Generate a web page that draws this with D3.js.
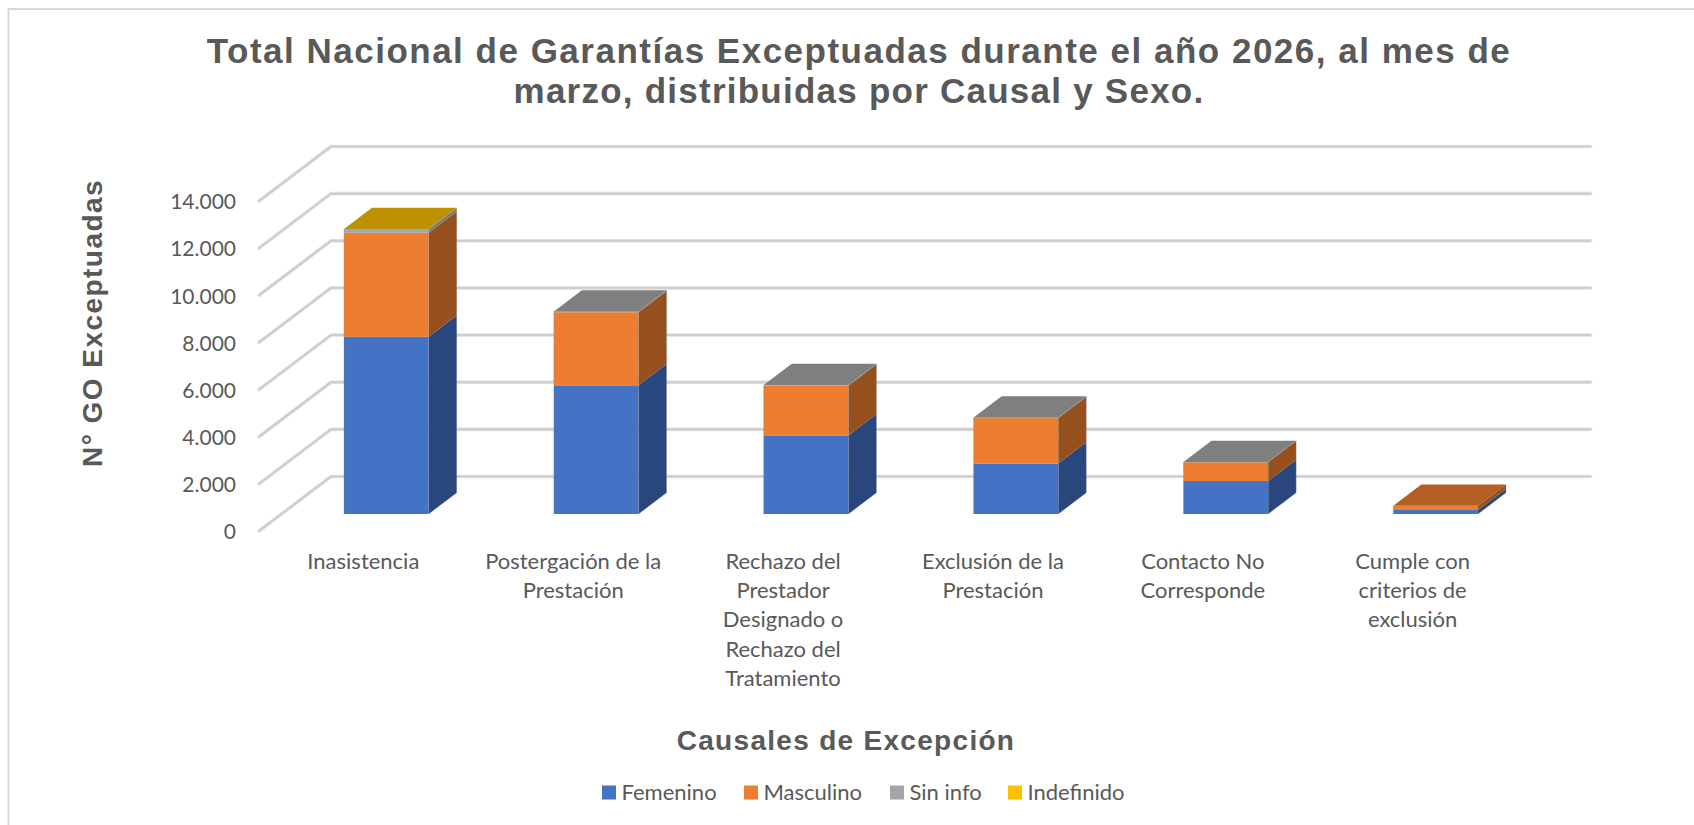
<!DOCTYPE html>
<html><head><meta charset="utf-8">
<style>html,body{margin:0;padding:0;background:#fff}svg{display:block}</style>
<script src="https://cdn.jsdelivr.net/npm/d3@7"></script></head><body>
<svg id="c" width="1694" height="825"></svg>
<script>
const categories = [["Inasistencia"],["Postergación de la","Prestación"],["Rechazo del","Prestador","Designado o","Rechazo del","Tratamiento"],["Exclusión de la","Prestación"],["Contacto No","Corresponde"],["Cumple con","criterios de","exclusión"]];
const seriesNames = ["Femenino","Masculino","Sin info","Indefinido"];
const femenino  = [7520,5460,3335,2140,1400,170];
const masculino = [4410,3100,2110,1930,795,180];
const sinInfo   = [155,30,25,20,10,0];
const indefinido= [5,0,0,0,0,0];
const yTicks = [0,2000,4000,6000,8000,10000,12000,14000];
const frontColors = ["#4472C4","#ED7D31","#A5A5A5","#FFC000"];
const sideColors  = ["#29477D","#96501E","#7C7C7C","#997300"];
const topColors   = ["#335A9E","#B35E22","#7F7F7F","#BF9000"];

const svg = d3.select("#c");
const ink = "#595959";
const sans = "'Liberation Sans',Arial,sans-serif";
const body = "Lato,Carlito,sans-serif";

// frame
svg.append("path").attr("d","M8.5,825V9H1694").attr("fill","none").attr("stroke","#d9d9d9").attr("stroke-width",2);

const y = d3.scaleLinear().domain([0,14000]).range([514,184]);
const x = d3.scaleBand().domain(d3.range(categories.length)).range([344,1478]).paddingInner(0.5965).paddingOuter(0);
// oblique projection of the 3D floor
const wall = {dx:72, dy:-54.5, front:17, x0:259, x1:1590.7};
const bar = {dx:28, dy:-21.3};
const line = d3.line();

const grid = svg.append("g");
yTicks.forEach(t=>{
  const yf = y(t)+wall.front;
  const pts = [[wall.x0,yf],[wall.x0+wall.dx,yf+wall.dy],[wall.x1,yf+wall.dy]];
  grid.append("path").attr("d",line(pts)).attr("fill","none").attr("stroke","#dedede").attr("stroke-width",3.6).attr("stroke-linecap","round").attr("stroke-linejoin","round");
  grid.append("path").attr("d",line(pts)).attr("fill","none").attr("stroke","#c6c6c6").attr("stroke-width",1.2);
});

const rows = categories.map((c,i)=>({i,Femenino:femenino[i],Masculino:masculino[i],"Sin info":sinInfo[i],Indefinido:indefinido[i]}));
const stacked = d3.stack().keys(seriesNames)(rows);
const bars = svg.append("g");
stacked.forEach((s,k)=>{
  s.forEach((d,i)=>{
    if(d[1]<=d[0]) return;
    const x0=x(i), x1=x0+x.bandwidth(), yb=y(d[0]), yt=y(d[1]);
    bars.append("path").attr("d",line([[x1,yb],[x1+bar.dx,yb+bar.dy],[x1+bar.dx,yt+bar.dy],[x1,yt]])+"Z").attr("fill",sideColors[k]);
    bars.append("rect").attr("x",x0).attr("y",yt).attr("width",x.bandwidth()).attr("height",yb-yt).attr("fill",frontColors[k]);
  });
});
rows.forEach((r,i)=>{
  let k=-1; stacked.forEach((s,j)=>{ if(s[i][1]>s[i][0]) k=j; });
  const x0=x(i), x1=x0+x.bandwidth(), yt=y(stacked[k][i][1]);
  bars.append("path").attr("d",line([[x0,yt],[x0+bar.dx,yt+bar.dy],[x1+bar.dx,yt+bar.dy],[x1,yt]])+"Z").attr("fill",topColors[k]);
  bars.append("path").attr("d",line([[x0,y(0)],[x0,yt],[x1,yt],[x1,y(0)],[x1+bar.dx,y(0)+bar.dy],[x1+bar.dx,yt+bar.dy]])).attr("fill","none").attr("stroke","#8a8a8a").attr("stroke-opacity",0.35).attr("stroke-width",1);
});

// value axis
const es = d3.formatLocale({decimal:",",thousands:".",grouping:[3],currency:["$",""]});
const axis = d3.axisLeft(y).tickValues(yTicks).tickSize(0).tickPadding(0).tickFormat(es.format(","));
const ax = svg.append("g").attr("transform","translate(236,18)").call(axis);
ax.select(".domain").remove();
ax.selectAll("text").attr("font-family",body).attr("font-size",21).attr("fill",ink);

// category labels
const cat = svg.append("g").attr("font-family",body).attr("font-size",22).attr("fill",ink).attr("text-anchor","middle");
categories.forEach((lines,i)=>{
  lines.forEach((l,j)=>{
    cat.append("text").attr("x",x(i)+x.bandwidth()/2-23).attr("y",569+j*29.2).text(l);
  });
});

// titles
const title = svg.append("g").attr("font-family",sans).attr("font-weight","bold").attr("fill",ink).attr("text-anchor","middle");
title.append("text").attr("x",859).attr("y",63).attr("font-size",35).attr("letter-spacing",1.5).text("Total Nacional de Garantías Exceptuadas durante el año 2026, al mes de");
title.append("text").attr("x",859).attr("y",103).attr("font-size",35).attr("letter-spacing",1.24).text("marzo, distribuidas por Causal y Sexo.");
title.append("text").attr("x",846).attr("y",750).attr("font-size",28).attr("letter-spacing",1.3).text("Causales de Excepción");
title.append("text").attr("transform","translate(102,323) rotate(-90)").attr("font-size",28).attr("letter-spacing",1.46).text("N° GO Exceptuadas");

// legend
const legendX = [602,744,890,1008];
const lg = svg.append("g").attr("font-family",body).attr("font-size",22).attr("fill",ink);
seriesNames.forEach((n,k)=>{
  lg.append("rect").attr("x",legendX[k]).attr("y",785.5).attr("width",14).attr("height",14).attr("fill",frontColors[k]);
  lg.append("text").attr("x",legendX[k]+19.5).attr("y",800).text(n);
});
</script></body></html>
